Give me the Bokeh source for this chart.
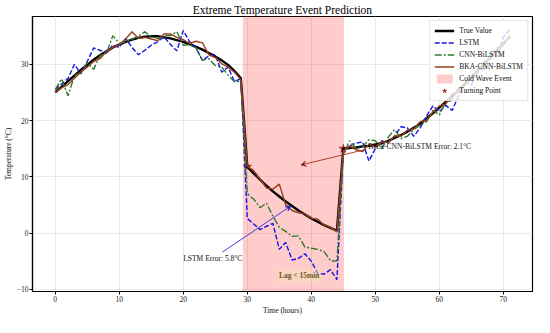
from bokeh.plotting import figure
from bokeh.models import Range1d, FixedTicker, Label, Arrow, VeeHead, Legend
from bokeh.embed import file_html
from bokeh.resources import INLINE

# ---------------- data ----------------
hours = list(range(72))

true_value = [
    25.0, 26.0, 27.0, 28.0, 29.0, 29.9, 30.8, 31.6, 32.3, 33.0,
    33.5, 34.0, 34.4, 34.7, 34.9, 35.0, 35.0, 34.8, 34.6, 34.3,
    34.0, 33.6, 33.1, 32.6, 32.0, 31.4, 30.7, 29.9, 28.8, 27.5,
    11.8, 10.6, 9.5, 8.4, 7.4, 6.5, 5.6, 4.8, 4.0, 3.3,
    2.6, 2.0, 1.4, 0.9, 0.4,
    15.0, 15.1, 15.2, 15.4, 15.5, 15.7, 16.0, 16.4, 16.9, 17.4,
    18.0, 18.7, 19.4, 20.4, 21.3, 22.3, 23.3, 24.3, 25.3, 26.5,
    27.7, 28.9, 30.1, 31.3, 32.5, 33.7, 34.9,
]

lstm = [
    25.5, 26.5, 27.5, 30.0, 28.3, 30.5, 32.9, 32.5, 32.0, 33.4,
    33.0, 34.6, 33.0, 31.7, 32.5, 33.4, 34.0, 34.9, 33.5, 32.4,
    36.0, 34.0, 32.9, 30.7, 31.5, 31.7, 28.6, 29.5, 26.9, 27.5,
    2.6, 1.6, 0.6, 1.2, 1.7, -2.9, -1.7, -4.8, -4.5, -3.7,
    -5.0, -7.2, -7.3, -6.5, -8.3,
    14.6, 15.5, 16.0, 16.2, 12.8, 15.0, 16.4, 16.0, 17.2, 18.9,
    18.7, 17.2, 18.7, 20.8, 22.6, 21.6, 22.7, 21.8, 24.4, 27.0,
    26.2, 29.5, 28.8, 31.9, 31.5, 34.8, 36.2,
]

cnn_bilstm = [
    25.5, 27.4, 24.4, 28.0, 28.5, 30.3, 29.1, 31.5, 32.0, 35.1,
    33.7, 34.0, 34.5, 35.0, 35.8, 34.9, 34.6, 35.1, 35.1, 35.8,
    33.4, 33.5, 32.9, 30.7, 31.0, 29.8, 29.5, 28.1, 26.9, 27.0,
    7.0, 6.0, 4.5, 5.3, 3.0, 1.0, 0.3, -0.6, -0.5, -2.5,
    -2.7, -2.9, -3.3, -4.9, -5.0,
    14.0, 16.4, 15.0, 15.3, 16.6, 16.4, 15.0, 17.0, 18.4, 16.8,
    17.2, 18.4, 19.2, 19.8, 21.8, 21.0, 23.2, 23.6, 25.8, 26.0,
    28.2, 28.4, 30.5, 30.8, 33.0, 33.2, 35.2,
]

bka_cnn_bilstm = [
    25.0, 25.8, 26.4, 27.5, 28.6, 29.5, 30.5, 31.0, 32.3, 33.0,
    33.5, 34.5, 35.8, 34.6, 34.8, 34.5, 34.2, 35.4, 35.4, 34.8,
    34.4, 33.7, 34.1, 33.8, 31.7, 31.2, 30.1, 29.5, 28.6, 27.3,
    11.9, 11.1, 9.6, 8.0, 7.8, 8.7, 5.0, 4.0, 3.6, 3.4,
    2.6, 2.5, 1.4, 1.0, 0.2,
    14.6, 15.5, 14.8, 14.5, 15.8, 15.3, 16.2, 16.1, 17.3, 17.2,
    18.3, 18.5, 19.8, 20.0, 21.5, 22.6, 22.9, 24.8, 25.0, 26.9,
    27.4, 29.2, 29.7, 31.6, 32.1, 33.9, 34.6,
]

cold_wave_start = 29.3
cold_wave_end = 45.1
turning_hours = [30, 45]
turning_temps = [true_value[30], true_value[45]]

x_ticks = [0, 10, 20, 30, 40, 50, 60, 70]
y_ticks = [-10, 0, 10, 20, 30]

SERIF = "Liberation Serif"

# ---------------- figure ----------------
p = figure(width=534, height=317, output_backend="svg", toolbar_location=None,
           x_range=Range1d(-3.55, 74.55), y_range=Range1d(-10.4, 38.5),
           min_border_left=0, min_border_right=2, min_border_top=0, min_border_bottom=0)

p.title.text = "Extreme Temperature Event Prediction"
p.title.text_font = SERIF
p.title.text_font_size = "11.5px"
p.title.text_font_style = "normal"
p.title.text_color = "black"
p.title.align = "center"
p.title.standoff = 2
p.title.offset = 0

p.outline_line_color = "black"
p.outline_line_width = 1.2
p.background_fill_color = "white"
p.border_fill_color = "white"

for ax in (p.xaxis[0], p.yaxis[0]):
    ax.axis_line_color = "black"
    ax.axis_line_width = 1.2
    ax.major_tick_out = 3
    ax.major_tick_in = 0
    ax.minor_tick_line_color = None
    ax.major_label_text_font = SERIF
    ax.major_label_text_font_size = "7.5px"
    ax.major_label_text_color = "#222222"
    ax.axis_label_text_font = SERIF
    ax.axis_label_text_font_size = "7.5px"
    ax.axis_label_text_font_style = "normal"
    ax.axis_label_text_color = "#111111"
    ax.axis_label_standoff = 1
    ax.major_label_standoff = 1

p.xaxis.ticker = FixedTicker(ticks=x_ticks)
p.yaxis.ticker = FixedTicker(ticks=y_ticks)
p.xaxis.axis_label = "Time (hours)"
p.yaxis.axis_label = "Temperature (°C)"

p.xgrid.ticker = FixedTicker(ticks=x_ticks)
p.ygrid.ticker = FixedTicker(ticks=y_ticks)
p.grid.grid_line_color = "#e3e3e3"
p.grid.grid_line_width = 0.8

# cold wave shading
r_cold = p.quad(left=[cold_wave_start], right=[cold_wave_end], bottom=[-100], top=[100],
                fill_color="red", fill_alpha=0.2, line_color=None)

r_turn = p.scatter(turning_hours, turning_temps, marker="star", size=9,
                   fill_color="#b22222", line_color="#8b1a1a", line_width=0.5)
r_true = p.line(hours, true_value, line_color="black", line_width=2.4)
r_lstm = p.line(hours, lstm, line_color="#1414e6", line_width=1.4, line_dash="5 2")
r_cnn = p.line(hours, cnn_bilstm, line_color="#2d7a2d", line_width=1.4, line_dash="7 2 2 2")
r_bka = p.line(hours, bka_cnn_bilstm, line_color="#9a3f1a", line_width=1.4)

# annotations
p.add_layout(Arrow(end=VeeHead(size=5, line_color="#2a2ae0", line_width=0.9),
                   x_start=26.1, y_start=-3.4, x_end=36.8, y_end=4.8,
                   line_color="#2a2ae0", line_width=0.9))
p.add_layout(Label(x=20.0, y=-4.6, text="LSTM Error: 5.8°C", text_font=SERIF,
                   text_font_size="7.5px", text_baseline="middle", text_color="#111111"))

p.add_layout(Arrow(end=VeeHead(size=5, line_color="#a0301e", line_width=0.9),
                   x_start=48.6, y_start=14.9, x_end=38.4, y_end=12.1,
                   line_color="#a0301e", line_width=0.9))
p.add_layout(Label(x=48.9, y=15.3, text="BKA-CNN-BiLSTM Error: 2.1°C", text_font=SERIF,
                   text_font_size="7.5px", text_baseline="middle", text_color="#111111"))

p.add_layout(Label(x=38.1, y=-7.6, text="Lag < 15min", text_font=SERIF,
                   text_font_size="7.5px", text_font_style="bold", text_baseline="middle",
                   text_align="center", text_color="#6b5a1e",
                   background_fill_color="wheat", background_fill_alpha=0.5,
                   padding=2))

legend = Legend(items=[
    ("True Value", [r_true]),
    ("LSTM", [r_lstm]),
    ("CNN-BiLSTM", [r_cnn]),
    ("BKA-CNN-BiLSTM", [r_bka]),
    ("Cold Wave Event", [r_cold]),
    ("Turning Point", [r_turn]),
], location="top_right")
legend.label_text_font = SERIF
legend.label_text_font_size = "7.5px"
legend.label_text_color = "#111111"
legend.glyph_width = 20
legend.glyph_height = 11
legend.label_height = 11
legend.spacing = 1
legend.padding = 4
legend.margin = 4
legend.label_standoff = 5
legend.background_fill_alpha = 0.8
legend.border_line_color = "#cccccc"
legend.border_line_width = 0.8
p.add_layout(legend)

open("out.html", "w").write(file_html(p, INLINE))
